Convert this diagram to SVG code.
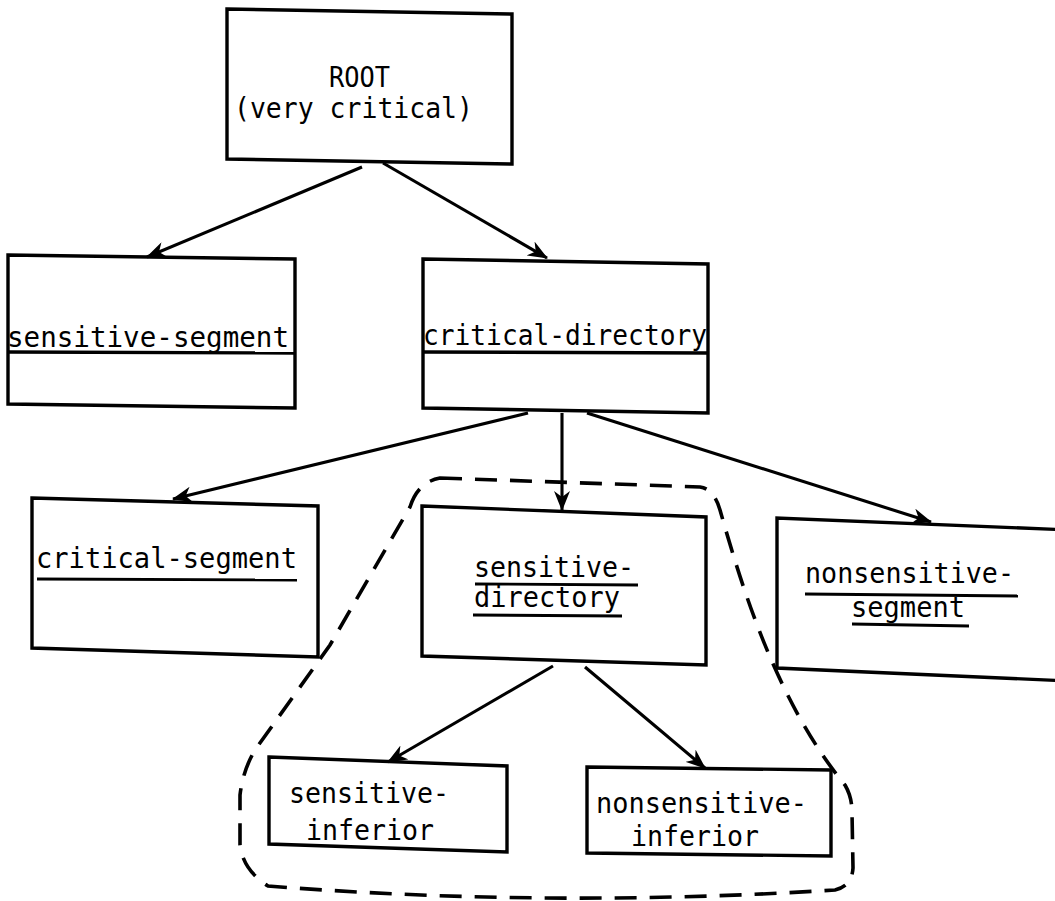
<svg xmlns="http://www.w3.org/2000/svg" width="1055" height="901" viewBox="0 0 1055 901">
<style>
.box{fill:none;stroke:#000;stroke-width:3.4;stroke-linejoin:miter}
.ul{stroke:#000;stroke-width:2.8;fill:none}
.edge{stroke:#000;stroke-width:3.1;fill:none;marker-end:url(#arr)}
.dash{fill:none;stroke:#000;stroke-width:3.6;stroke-dasharray:22 13;stroke-linecap:butt}
text{font-family:"DejaVu Sans Mono","Liberation Mono",monospace;font-size:28.5px;fill:#000;text-anchor:middle}
</style>
<defs>
<marker id="arr" markerUnits="userSpaceOnUse" markerWidth="20" markerHeight="16" viewBox="0 0 20 16" refX="19" refY="8" orient="auto">
<path d="M0,0 L20,8 L0,16 L6,8 Z" fill="#000"/>
</marker>
</defs>
<rect x="0" y="0" width="1055" height="901" fill="#fff"/>

<g id="group-boundary">
<path class="dash" d="M 440 478 L 700 487 Q 714 489 720 510 C 740 580 775 700 845 785 Q 852 797 852 812 L 853 868 Q 852 886 835 890 Q 550 908 268 886 Q 243 870 240 845 L 240 795 Q 243 770 255 750 L 330 645 L 410 507 Q 418 482 440 478 Z"/>
</g>

<g id="connectors">
<line class="edge" x1="362" y1="167" x2="147" y2="257"/>
<line class="edge" x1="383" y1="163" x2="547" y2="258"/>
<line class="edge" x1="528" y1="413" x2="173" y2="499"/>
<line class="edge" x1="562" y1="413" x2="562" y2="510"/>
<line class="edge" x1="587" y1="413" x2="931" y2="522"/>
<line class="edge" x1="553" y1="666" x2="388" y2="762"/>
<line class="edge" x1="585" y1="667" x2="705" y2="768"/>
</g>

<g id="root">
<polygon class="box" points="227,9 512,14 512,164 227,159"/>
<text x="359.5" y="87" textLength="61" lengthAdjust="spacingAndGlyphs">ROOT</text>
<text x="353.5" y="118" textLength="239" lengthAdjust="spacingAndGlyphs">(very critical)</text>
</g>

<g id="sensitive-segment">
<polygon class="box" points="8,255 295,259 295,408 8,404"/>
<line class="ul" x1="8" y1="352" x2="295" y2="353" style="stroke-width:3.4"/>
<text x="148" y="347" textLength="282" lengthAdjust="spacingAndGlyphs">sensitive-segment</text>
</g>

<g id="critical-directory">
<polygon class="box" points="423,259 708,264 708,413 423,408"/>
<line class="ul" x1="423" y1="352" x2="708" y2="353" style="stroke-width:3.4"/>
<text x="565" y="345" textLength="284" lengthAdjust="spacingAndGlyphs">critical-directory</text>
</g>

<g id="critical-segment">
<polygon class="box" points="32,498 318,506 318,657 32,648"/>
<text x="166.5" y="568" textLength="261" lengthAdjust="spacingAndGlyphs">critical-segment</text>
<line class="ul" x1="37" y1="579" x2="297" y2="580"/>
</g>

<g id="sensitive-directory">
<polygon class="box" points="422,506 706,517 706,665 422,656"/>
<text x="554" y="577" textLength="160" lengthAdjust="spacingAndGlyphs">sensitive-</text>
<line class="ul" x1="475" y1="584" x2="638" y2="585"/>
<text x="547" y="607" textLength="146" lengthAdjust="spacingAndGlyphs">directory</text>
<line class="ul" x1="473" y1="615" x2="622" y2="616"/>
</g>

<g id="nonsensitive-segment">
<path class="box" d="M 1070 530 L 777 518 L 777 668 L 1070 681"/>
<text x="909.5" y="583" textLength="209" lengthAdjust="spacingAndGlyphs">nonsensitive-</text>
<line class="ul" x1="805" y1="594" x2="1018" y2="596"/>
<text x="908" y="617" textLength="114" lengthAdjust="spacingAndGlyphs">segment</text>
<line class="ul" x1="852" y1="624" x2="969" y2="626"/>
</g>

<g id="sensitive-inferior">
<polygon class="box" points="269,757 507,766 507,852 269,844"/>
<text x="369" y="803" textLength="160" lengthAdjust="spacingAndGlyphs">sensitive-</text>
<text x="370" y="840" textLength="128" lengthAdjust="spacingAndGlyphs">inferior</text>
</g>

<g id="nonsensitive-inferior">
<polygon class="box" points="587,767 831,770 831,856 587,853"/>
<text x="701.5" y="813" textLength="211" lengthAdjust="spacingAndGlyphs">nonsensitive-</text>
<text x="695" y="846" textLength="128" lengthAdjust="spacingAndGlyphs">inferior</text>
</g>
</svg>
